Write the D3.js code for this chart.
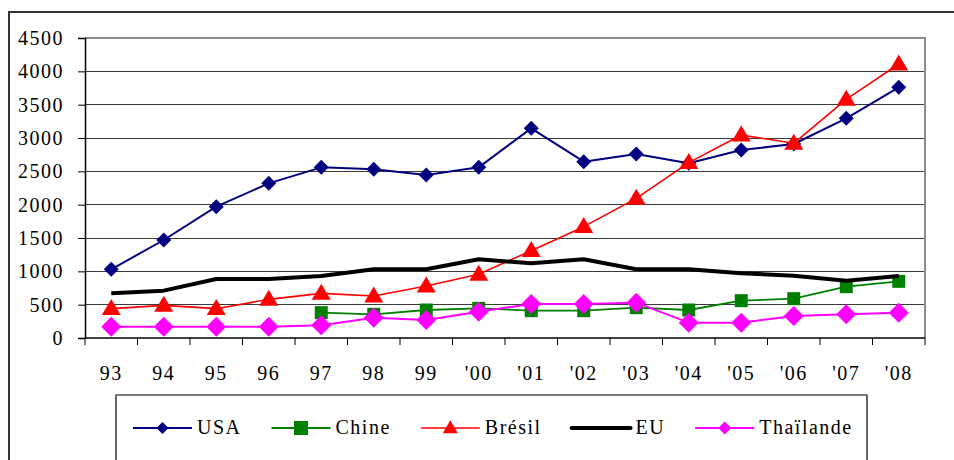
<!DOCTYPE html>
<html>
<head>
<meta charset="utf-8">
<script src="https://cdn.jsdelivr.net/npm/d3@7"></script>
<style>
  html, body { margin: 0; padding: 0; background: #fff; }
  svg { display: block; }
</style>
</head>
<body>
<svg id="chart" width="954" height="460"></svg>
<script>
// Years on the horizontal axis
const years = ["93", "94", "95", "96", "97", "98", "99", "'00", "'01", "'02", "'03", "'04", "'05", "'06", "'07", "'08"];

// Series values per year (null = no data)
const usa      = [1030, 1470, 1970, 2320, 2560, 2530, 2445, 2560, 3145, 2645, 2760, 2620, 2820, 2910, 3295, 3760];
const chine    = [null, null, null, null, 380, 355, 420, 445, 410, 410, 455, 420, 560, 590, 770, 850];
const bresil   = [440, 490, 440, 580, 670, 630, 780, 955, 1310, 1670, 2095, 2630, 3045, 2920, 3580, 4110];
const eu       = [670, 710, 885, 885, 930, 1030, 1030, 1180, 1120, 1180, 1030, 1030, 970, 935, 860, 930];
const thailand = [170, 170, 170, 170, 190, 305, 270, 395, 510, 510, 530, 230, 230, 330, 355, 380];

const yTicks = [0, 500, 1000, 1500, 2000, 2500, 3000, 3500, 4000, 4500];

const seriesNames = ["USA", "Chine", "Brésil", "EU", "Thaïlande"];

const FONT = "'Liberation Serif', 'Times New Roman', Times, serif";

// marker shape with plot size (mw x mh) and legend size (lw x lh)
const series = [
  { name: seriesNames[0], values: usa,      color: "#000080", width: 2,   marker: "diamond",  mw: 15, mh: 15, lw: 12, lh: 12 },
  { name: seriesNames[1], values: chine,    color: "#008000", width: 1.8, marker: "square",   mw: 13, mh: 13, lw: 14, lh: 14 },
  { name: seriesNames[2], values: bresil,   color: "#ff0000", width: 1.6, marker: "triangle", mw: 19, mh: 16, lw: 15, lh: 13 },
  { name: seriesNames[3], values: eu,       color: "#000000", width: 4,   marker: null },
  { name: seriesNames[4], values: thailand, color: "#ff00ff", width: 2,   marker: "diamond",  mw: 20, mh: 20, lw: 13, lh: 13 }
];

const svg = d3.select("#chart");

// Plot frame
const plot = { left: 85, right: 925, top: 38, bottom: 338 };

const x = d3.scaleBand().domain(years).range([plot.left, plot.right]).padding(0);
const y = d3.scaleLinear().domain([0, 4500]).range([plot.bottom, plot.top]);

// Outer chart border (top and left visible)
svg.append("path")
  .attr("d", `M9,460 L9,12 L960,12`)
  .attr("fill", "none")
  .attr("stroke", "#333")
  .attr("stroke-width", 2);

// Horizontal gridlines
svg.append("g")
  .selectAll("line")
  .data(yTicks.filter(d => d > 0 && d < 4500))
  .join("line")
  .attr("x1", plot.left).attr("x2", plot.right)
  .attr("y1", d => y(d)).attr("y2", d => y(d))
  .attr("stroke", "#3a3a3a")
  .attr("stroke-width", 1)
  .attr("shape-rendering", "crispEdges");

// Plot area border on top and right (grey)
svg.append("path")
  .attr("d", `M${plot.left},${y(4500)} L${plot.right},${y(4500)} L${plot.right},${plot.bottom}`)
  .attr("fill", "none")
  .attr("stroke", "#8c8c8c")
  .attr("stroke-width", 2);

function styleText(sel) {
  sel.attr("font-size", 20)
    .attr("fill", "#000")
    .style("font-family", FONT)
    .style("letter-spacing", "1.5px");
}

// Y axis
const yAxis = svg.append("g")
  .attr("transform", `translate(${plot.left},0)`)
  .call(d3.axisLeft(y).tickValues(yTicks).tickFormat(d3.format("d")).tickSize(7).tickPadding(14));
yAxis.attr("font-family", null).attr("font-size", null);
yAxis.select(".domain").attr("stroke", "#000").attr("stroke-width", 1.5);
yAxis.selectAll(".tick line").attr("stroke", "#000").attr("stroke-width", 1);
yAxis.selectAll(".tick text").call(styleText);

// X axis: labels centred in each band, ticks at band edges
const xAxis = svg.append("g")
  .attr("transform", `translate(0,${plot.bottom})`)
  .call(d3.axisBottom(x).tickSize(0).tickPadding(28));
xAxis.attr("font-family", null).attr("font-size", null);
xAxis.select(".domain").remove();
xAxis.selectAll(".tick text").call(styleText);

svg.append("line")
  .attr("x1", plot.left).attr("x2", plot.right)
  .attr("y1", plot.bottom).attr("y2", plot.bottom)
  .attr("stroke", "#000").attr("stroke-width", 1.5);

const edges = years.map(d => x(d)).concat([x(years[years.length - 1]) + x.bandwidth()]);
svg.append("g")
  .selectAll("line")
  .data(edges)
  .join("line")
  .attr("x1", d => d).attr("x2", d => d)
  .attr("y1", plot.bottom).attr("y2", plot.bottom + 7)
  .attr("stroke", "#000").attr("stroke-width", 1);

// Series lines and markers
const cx = d => x(d) + x.bandwidth() / 2;

function markerPath(m, w, h) {
  const a = w / 2, b = h / 2;
  if (m === "diamond") return `M0,${-b}L${a},0L0,${b}L${-a},0Z`;
  if (m === "square") return `M${-a},${-b}H${a}V${b}H${-a}Z`;
  if (m === "triangle") return `M0,${-h * 0.6}L${a},${h * 0.4}L${-a},${h * 0.4}Z`;
  return "";
}

const line = d3.line()
  .defined(d => d.v != null)
  .x(d => cx(d.year))
  .y(d => y(d.v));

series.forEach(s => {
  const pts = years.map((yr, i) => ({ year: yr, v: s.values[i] }));
  const g = svg.append("g");
  g.append("path")
    .datum(pts)
    .attr("d", line)
    .attr("fill", "none")
    .attr("stroke", s.color)
    .attr("stroke-width", s.width)
    .attr("stroke-linejoin", "round");
  if (s.marker) {
    g.selectAll("path.mk")
      .data(pts.filter(p => p.v != null))
      .join("path")
      .attr("class", "mk")
      .attr("d", markerPath(s.marker, s.mw, s.mh))
      .attr("transform", p => `translate(${cx(p.year)},${y(p.v)})`)
      .attr("fill", s.color);
  }
});

// Legend box
const lg = { left: 116, right: 867, top: 395, bottom: 470 };
svg.append("path")
  .attr("d", `M${lg.left},${lg.bottom} L${lg.left},${lg.top} L${lg.right},${lg.top} L${lg.right},${lg.bottom}`)
  .attr("fill", "#fff")
  .attr("stroke", "#000")
  .attr("stroke-width", 1.2);
svg.append("line")
  .attr("x1", lg.left).attr("x2", lg.right)
  .attr("y1", lg.top).attr("y2", lg.top)
  .attr("stroke", "#777").attr("stroke-width", 1.5);

const legendY = 428;
const swatchLen = 59;
let lx = 133;
series.forEach(s => {
  const g = svg.append("g");
  g.append("line")
    .attr("x1", lx).attr("x2", lx + swatchLen)
    .attr("y1", legendY).attr("y2", legendY)
    .attr("stroke", s.color)
    .attr("stroke-width", s.width)
    .attr("stroke-linecap", s.marker ? "butt" : "round");
  if (s.marker) {
    g.append("path")
      .attr("d", markerPath(s.marker, s.lw, s.lh))
      .attr("transform", `translate(${lx + swatchLen / 2},${legendY})`)
      .attr("fill", s.color);
  }
  const t = g.append("text")
    .attr("x", lx + swatchLen + 5)
    .attr("y", legendY + 6)
    .call(styleText)
    .text(s.name);
  lx = lx + swatchLen + 5 + t.node().getComputedTextLength() + 30;
});
</script>
</body>
</html>
